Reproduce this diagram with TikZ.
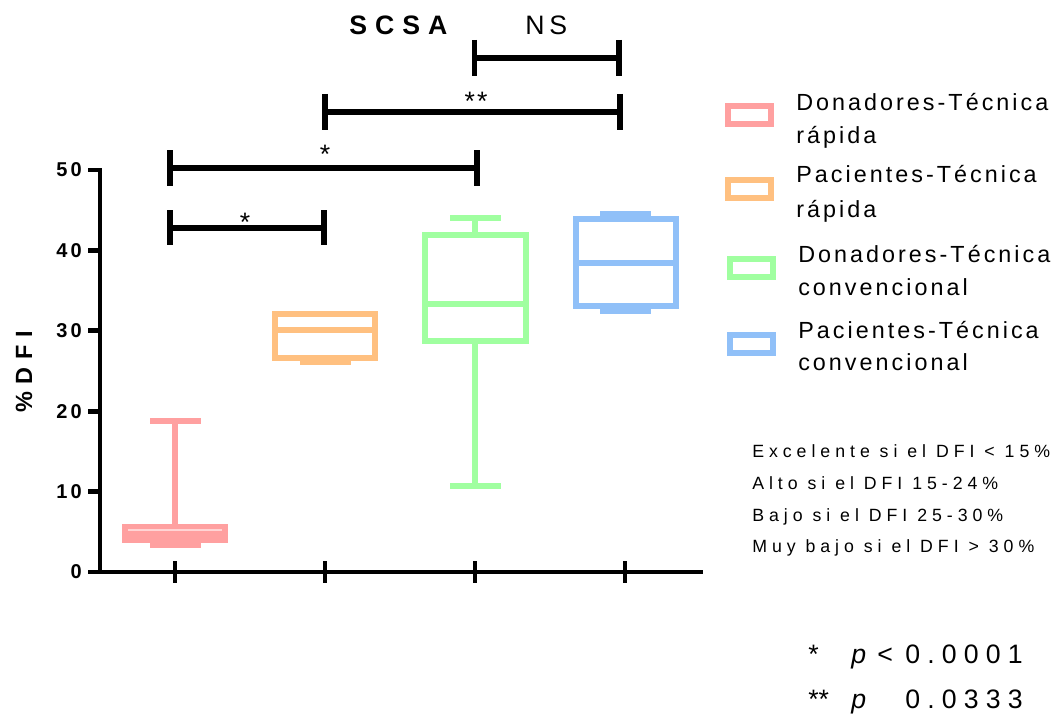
\documentclass[tikz,border=0pt]{standalone}
\usepackage{fontspec}
\setmainfont{Liberation Sans}
\usepackage{tikz}
\usetikzlibrary{positioning}
\definecolor{donrap}{HTML}{FFA0A0}
\definecolor{pacrap}{HTML}{FFC080}
\definecolor{doncon}{HTML}{A0FFA0}
\definecolor{paccon}{HTML}{90C0F8}

\begin{document}
\begin{tikzpicture}[x=0.75pt, y=-0.75pt,
    axisline/.style={line width=3.5pt, black},
    boxline/.style={line width=4.5pt},
    whisker/.style={line width=5.2pt},
    bracket/.style={line width=4.2pt, black},
    ticklab/.style={font=\fontsize{15}{18}\selectfont\bfseries\addfontfeatures{LetterSpace=15}, inner sep=0pt, anchor=east},
    legtext/.style={font=\fontsize{17.5}{21}\selectfont\addfontfeatures{LetterSpace=13}, inner sep=0pt, anchor=base west},
    crittext/.style={font=\fontsize{13.3}{16}\selectfont\addfontfeatures{LetterSpace=28}, inner sep=0pt, anchor=base west},
    pvaltext/.style={font=\fontsize{20}{24}\selectfont\addfontfeatures{LetterSpace=27}, inner sep=0pt, anchor=base west},
    startext/.style={font=\fontsize{20}{24}\selectfont, inner sep=0pt, anchor=base}]
  \useasboundingbox (0,0) rectangle (1055,713);

  % axes
  \draw[axisline] (88,170) -- (100,170) -- (100,572) -- (703,572);
  \foreach \v in {0,10,20,30,40}
    \draw[axisline] (88,{572-8.04*\v}) -- (100,{572-8.04*\v});
  \foreach \v in {0,10,...,50}
    \node[ticklab] (ylab\v) at (82,{572-8.04*\v}) {\v};
  \foreach \x in {175,325,475,625}
    \draw[axisline] (\x,561) -- (\x,583);
  \node[font=\fontsize{17.6}{20}\selectfont\bfseries\addfontfeatures{LetterSpace=33},
    rotate=90, inner sep=0pt] (ytitle) at (24,372) {\%DFI};

  % Donadores - rapida
  \draw[whisker, donrap] (175,421) -- (175,527);
  \draw[boxline, donrap] (150,421) -- (201,421);
  \fill[donrap] (122,524) rectangle (228,543);
  \fill[donrap] (150,543) rectangle (201,548);
  \draw[line width=0.8pt, donrap!45!white] (128,530) -- (222,530);

  % Pacientes - rapida
  \draw[boxline, pacrap] (275,314) rectangle (375,358);
  \draw[boxline, pacrap] (275,330) -- (375,330);
  \draw[boxline, pacrap] (300,362) -- (351,362);

  % Donadores - convencional
  \draw[whisker, doncon] (475,218) -- (475,235);
  \draw[whisker, doncon] (475,341) -- (475,485.5);
  \draw[boxline, doncon] (450,218) -- (501,218);
  \draw[boxline, doncon] (450,485.5) -- (501,485.5);
  \draw[boxline, doncon] (425,235) rectangle (526,341);
  \draw[boxline, doncon] (425,304) -- (526,304);

  % Pacientes - convencional
  \draw[boxline, paccon] (600,214) -- (651,214);
  \draw[boxline, paccon] (600,311) -- (651,311);
  \draw[boxline, paccon] (576,219) rectangle (676,306);
  \draw[boxline, paccon] (576,263) -- (676,263);

  % significance brackets
  \draw[bracket] (170,210) -- (170,245) (170,228) -- (324,228) (324,210) -- (324,245);
  \node[startext] (star1) at (245,231) {*};
  \draw[bracket] (170,150) -- (170,186) (170,168) -- (477,168) (477,150) -- (477,186);
  \node[startext] (star2) at (325,163) {*};
  \draw[bracket] (325,94) -- (325,130) (325,112) -- (620,112) (620,94) -- (620,130);
  \node[startext, font=\fontsize{20}{24}\selectfont\addfontfeatures{LetterSpace=8}] (star3) at (476,111) {**};
  \draw[bracket] (474.5,40) -- (474.5,76) (474.5,58) -- (619,58) (619,40) -- (619,76);
  \node[font=\fontsize{20}{24}\selectfont\addfontfeatures{LetterSpace=18}, inner sep=0pt, anchor=base west]
    (ns) at (525,35) {NS};
  \node[font=\fontsize{20}{24}\selectfont\bfseries\addfontfeatures{LetterSpace=30}, inner sep=0pt, anchor=base west]
    (title) at (349,35) {SCSA};

  % legend
  \draw[boxline, donrap] (728,106) rectangle (771,124);
  \draw[boxline, pacrap] (728,180) rectangle (771,198);
  \draw[boxline, doncon] (730,258.5) rectangle (773,276.5);
  \draw[boxline, paccon] (730,334.5) rectangle (773,352.5);
  \node[legtext] (leg1a) at (796,111) {Donadores-Técnica};
  \node[legtext] (leg1b) at (796,143) {rápida};
  \node[legtext] (leg2a) at (796,182) {Pacientes-Técnica};
  \node[legtext] (leg2b) at (796,217) {rápida};
  \node[legtext] (leg3a) at (798,262) {Donadores-Técnica};
  \node[legtext] (leg3b) at (798,295) {convencional};
  \node[legtext] (leg4a) at (798,338) {Pacientes-Técnica};
  \node[legtext] (leg4b) at (798,370) {convencional};

  % DFI ranges
  \node[crittext] (crit1) at (752,457) {Excelente si el DFI < 15\%};
  \node[crittext] (crit2) at (752,489) {Alto si el DFI 15-24\%};
  \node[crittext] (crit3) at (752,521) {Bajo si el DFI 25-30\%};
  \node[crittext] (crit4) at (752,552) {Muy bajo si el DFI > 30\%};

  % p values
  \node[pvaltext, font=\fontsize{20}{24}\selectfont] (pstar1) at (808,663) {*};
  \node[pvaltext, font=\fontsize{20}{24}\selectfont\itshape] (pit1) at (851,663) {p};
  \node[pvaltext] (plt1) at (877,663) {<};
  \node[pvaltext] (pval1) at (905,663) {0.0001};
  \node[pvaltext, font=\fontsize{20}{24}\selectfont] (pstar2) at (808,708) {**};
  \node[pvaltext, font=\fontsize{20}{24}\selectfont\itshape] (pit2) at (851,708) {p};
  \node[pvaltext] (pval2) at (905,708) {0.0333};
\end{tikzpicture}
\end{document}
